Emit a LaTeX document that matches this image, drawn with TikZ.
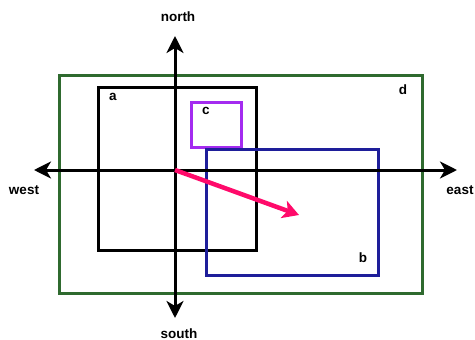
\documentclass[tikz,border=0pt]{standalone}
\usepackage{fontspec}
\setmainfont{Liberation Sans}
\usetikzlibrary{arrows.meta}
\definecolor{dgreen}{HTML}{2F6A2F}
\definecolor{vpurple}{HTML}{A42BF0}
\definecolor{navy}{HTML}{1E1E9A}
\definecolor{hotpink}{HTML}{FF0A6A}
\begin{document}
\begin{tikzpicture}[x=1pt,y=-1pt,
  lbl/.style={font=\bfseries\fontsize{13.5}{15}\selectfont, inner sep=0pt},
  box/.style={draw, line width=3pt, inner sep=0pt, fill=none},
  axis/.style={line width=3pt, -{Stealth[length=17pt,width=17pt,inset=5pt]}}]
\useasboundingbox (0,0) rectangle (475,340);
% rectangles
\node[box, draw=dgreen, minimum width=363pt, minimum height=218pt] (d) at (240.5,184) {};
\node[box, draw=black, minimum width=158pt, minimum height=163pt] (a) at (177,168.5) {};
\node[box, draw=vpurple, minimum width=50pt, minimum height=45pt] (c) at (216,125) {};
\node[box, draw=navy, minimum width=172pt, minimum height=126pt] (b) at (292,212) {};
% axes
\coordinate (o) at (175,170);
\coordinate (ew) at (34,170);
\coordinate (ee) at (457,170);
\coordinate (en) at (175,36);
\coordinate (es) at (175,318);
\draw[axis] (o) -- (ew);
\draw[axis] (o) -- (ee);
\draw[axis] (o) -- (en);
\draw[axis] (o) -- (es);
% pink arrow
\coordinate (p) at (299,215);
\draw[hotpink, line width=4.5pt, -{Stealth[length=16pt,width=18pt,inset=4pt]}] (o) -- (p);
% labels
\node[lbl, anchor=base] (ln) at (178,21) {north};
\node[lbl, anchor=base] (ls) at (179,338) {south};
\node[lbl] (lw) at (24,190) {west};
\node[lbl] (le) at (460,190) {east};
\node[lbl] (la) at (113,97) {a};
\node[lbl] (lb) at (363,258) {b};
\node[lbl] (lc) at (206,111) {c};
\node[lbl] (ld) at (403,90) {d};
\end{tikzpicture}
\end{document}
